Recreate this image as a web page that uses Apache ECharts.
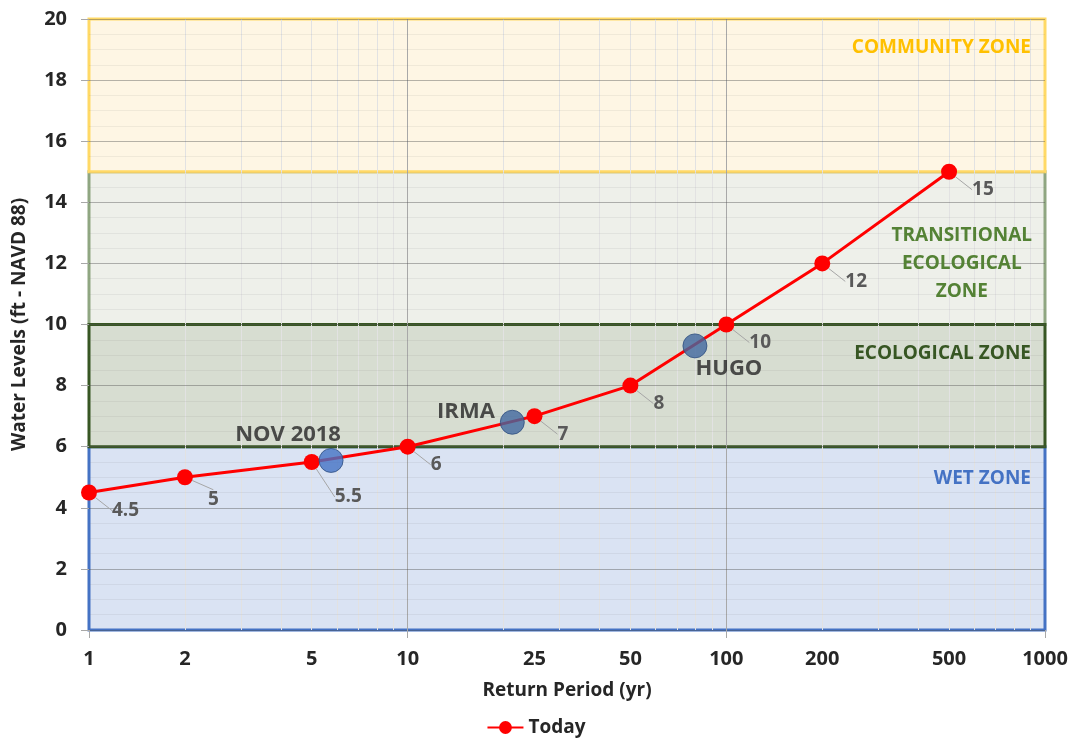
<!DOCTYPE html>
<html><head><meta charset="utf-8">
<script src="https://cdn.jsdelivr.net/npm/echarts@6/dist/echarts.min.js"></script>
<style>html,body{margin:0;padding:0;background:#fff}#c{width:1072px;height:738px}</style>
</head><body><div id="c"></div>
<script>
// ---- data ----
const returnPeriods = [1, 2, 5, 10, 25, 50, 100, 200, 500];
const todayLevels = [4.5, 5, 5.5, 6, 7, 8, 10, 12, 15];
const eventNames = ['NOV 2018', 'IRMA', 'HUGO'];
const eventPeriods = [5.75, 21.3, 79.7];
const eventLevels = [5.55, 6.8, 9.3];
const xTickLabels = [1, 2, 5, 10, 25, 50, 100, 200, 500, 1000];
const xMajorTicks = [1, 10, 100, 1000];
const xMajorGrid = [10, 100];
const xMinorGrid = [2, 3, 4, 5, 6, 7, 8, 9, 20, 30, 40, 50, 60, 70, 80, 90, 200, 300, 400, 500, 600, 700, 800, 900];
const zoneNames = ['WET ZONE', 'TRANSITIONAL\nECOLOGICAL\nZONE', 'ECOLOGICAL ZONE', 'COMMUNITY ZONE'];
const zoneLow = [0, 10, 6, 15];
const zoneHigh = [6, 15, 10, 20];

// ---- styles ----
const FONT = 'Open Sans';
const zoneFill = ['#dae3f3', '#eef0ea', '#d7ddd1', '#fef6e4'];
const zoneBorder = ['#4472c4', '#8fa681', '#375623', '#ffd966'];
const zoneText = ['#4472c4', '#548235', '#375623', '#ffc000'];
const zoneLabelPos = ['insideTopRight', ['91.3%', '60%'], 'insideTopRight', 'insideTopRight'];
const zoneLabelOffset = [[0, 4], [0, 0], [0, 1], [0, 1]];
const eventLabel = [
  {position: 'top', distance: 2, offset: [-43, 0]},
  {position: 'left', distance: 5, offset: [0, -11]},
  {position: 'bottom', distance: 2, offset: [34, -3]}
];
const eventColor = ['#4472c4', '#41689f', '#41689f'];

const chart = echarts.init(document.getElementById('c'));

const zoneAreas = zoneNames.map((n, i) => [
  {xAxis: 1, yAxis: zoneLow[i], itemStyle: {color: zoneFill[i], borderColor: zoneBorder[i], borderWidth: 3}},
  {xAxis: 1000, yAxis: zoneHigh[i]}
]);

const zoneLabelAreas = zoneNames.map((n, i) => {
  const pos = zoneLabelPos[i];
  const centered = Array.isArray(pos);
  return [
    {
      name: n, xAxis: 1, yAxis: zoneLow[i],
      itemStyle: {color: 'rgba(0,0,0,0)', borderWidth: 0},
      label: {
        show: true, position: pos, distance: 14,
        offset: zoneLabelOffset[i],
        align: centered ? 'center' : 'right',
        verticalAlign: centered ? 'middle' : 'top',
        color: zoneText[i], fontFamily: FONT, fontWeight: 'bold', fontSize: 19, lineHeight: 28
      }
    },
    {xAxis: 1000, yAxis: zoneHigh[i]}
  ];
});

const gridLines = xMinorGrid.map(v => ({xAxis: v, lineStyle: {color: '#e2e2e2', width: 1, type: 'solid'}}))
  .concat(xMajorGrid.map(v => ({xAxis: v, lineStyle: {color: '#a8a8a8', width: 1, type: 'solid'}})));

const axisText = {fontFamily: FONT, fontWeight: 'bold', fontSize: 19, color: '#262626'};
const tickText = {fontFamily: FONT, fontWeight: 'bold', fontSize: 20, color: '#262626'};

chart.setOption({
  animation: false,
  backgroundColor: '#ffffff',
  textStyle: {fontFamily: FONT},
  grid: {left: 89, right: 27, top: 19, bottom: 108},
  legend: {
    bottom: -4, left: 'center',
    data: ['Today'],
    itemWidth: 36, itemHeight: 16, itemGap: 4,
    textStyle: axisText
  },
  xAxis: {
    type: 'log', logBase: 10, min: 1, max: 1000, z: 1.2,
    name: 'Return Period (yr)', nameLocation: 'middle', nameGap: 51,
    nameTextStyle: axisText,
    axisLine: {show: false},
    axisTick: {show: true, customValues: xMajorTicks, length: 8, lineStyle: {color: '#a8a8a8'}},
    axisLabel: Object.assign({show: true, customValues: xTickLabels, margin: 19, formatter: v => String(v)}, tickText),
    splitLine: {show: false},
    minorTick: {show: false}, minorSplitLine: {show: false}
  },
  yAxis: {
    type: 'value', min: 0, max: 20, interval: 2, z: 1.2,
    name: 'Water Levels (ft - NAVD 88)', nameLocation: 'middle', nameGap: 60, nameRotate: 90,
    nameTextStyle: axisText,
    axisLine: {show: false},
    axisTick: {show: true, length: 8, lineStyle: {color: '#a8a8a8'}},
    axisLabel: Object.assign({margin: 22}, tickText),
    splitLine: {show: true, lineStyle: {color: 'rgba(80,80,80,0.42)', width: 1}},
    minorTick: {show: false, splitNumber: 4},
    minorSplitLine: {show: true, lineStyle: {color: 'rgba(120,120,120,0.10)', width: 1}}
  },
  series: [
    {
      name: 'zones', type: 'line', data: [], z: 1, silent: true,
      markArea: {silent: true, z: 1, data: zoneAreas},
      markLine: {silent: true, z: 1.1, symbol: 'none', label: {show: false}, data: gridLines}
    },
    {
      name: 'zoneLabels', type: 'line', data: [], z: 1.5, silent: true,
      markArea: {silent: true, z: 1.5, data: zoneLabelAreas}
    },
    {
      name: 'Today', type: 'line', z: 3,
      data: returnPeriods.map((p, i) => [p, todayLevels[i]]),
      symbol: 'circle', symbolSize: 16,
      lineStyle: {color: '#ff0000', width: 3},
      itemStyle: {color: '#ff0000'},
      label: {show: true, position: 'right', distance: 5, color: '#595959', fontFamily: FONT, fontWeight: 'bold', fontSize: 19},
      labelLayout: (params) => ({dx: 10, dy: params.dataIndex === 2 ? 35 : (params.dataIndex === 1 ? 22 : 18)}),
      labelLine: {show: true, lineStyle: {color: '#a6a6a6', width: 1}}
    },
    {
      name: 'Events', type: 'scatter', z: 4,
      data: eventNames.map((n, i) => ({
        name: n, value: [eventPeriods[i], eventLevels[i]],
        itemStyle: {color: eventColor[i]},
        label: Object.assign({show: true, formatter: n}, eventLabel[i])
      })),
      symbolSize: 24,
      itemStyle: {borderColor: '#2f4f7f', borderWidth: 1},
      label: {color: '#262626', fontFamily: FONT, fontWeight: 'bold', fontSize: 22}
    }
  ]
});
</script></body></html>
